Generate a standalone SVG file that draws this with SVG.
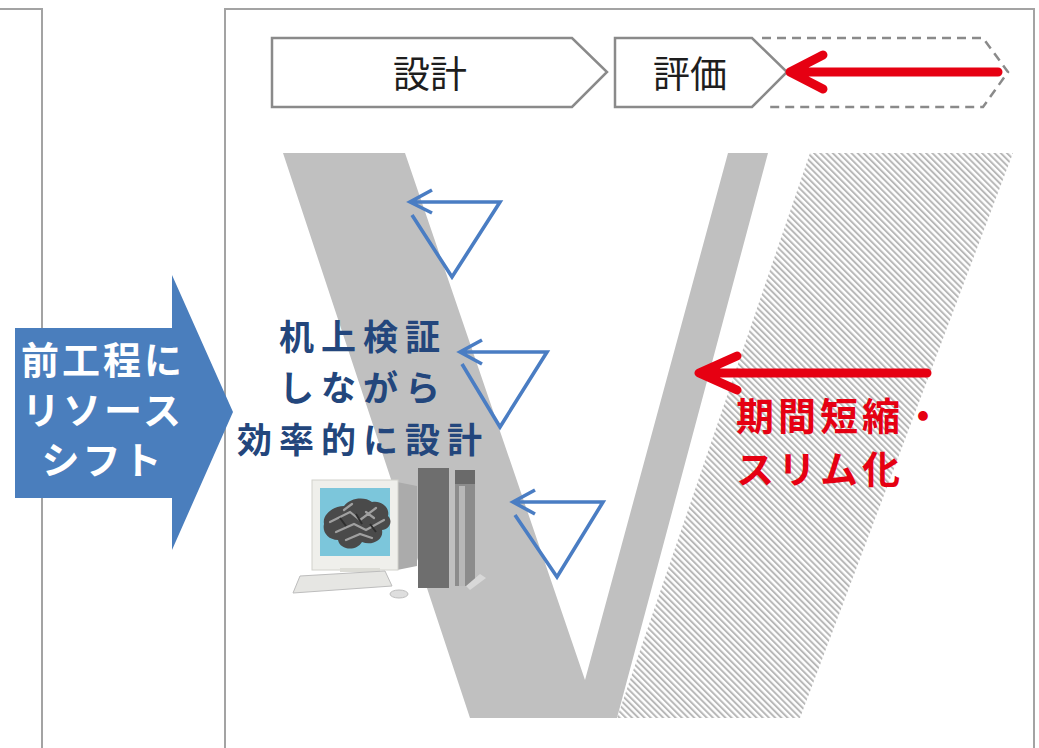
<svg xmlns="http://www.w3.org/2000/svg" width="1039" height="748" viewBox="0 0 1039 748">
  <defs>
    <pattern id="hatch" patternUnits="userSpaceOnUse" width="4.4" height="10" patternTransform="rotate(-45)">
      <rect x="0" y="0" width="2" height="10" fill="#b8b8b8"/>
    </pattern>
    <style>
      .panel { fill: none; stroke: #a3a3a3; stroke-width: 2; }
      .chev { fill: #ffffff; stroke: #8a8a8a; stroke-width: 2.5; }
      .chev-dash { fill: none; stroke: #8a8a8a; stroke-width: 2.5; stroke-dasharray: 9 6; }
      .chev-text { font-family: "Noto Sans CJK JP", "Noto Sans", sans-serif; font-size: 37px; fill: #1e1e1e; text-anchor: middle; dominant-baseline: central; }
      .cycle { fill: none; stroke: #4a7dc3; stroke-width: 3.6; stroke-linejoin: miter; }
      .red-arrow { fill: none; stroke: #e60012; stroke-width: 9; stroke-linecap: round; stroke-linejoin: round; }
      .navy { font-family: "Noto Sans CJK JP", "Noto Sans", sans-serif; font-size: 35px; font-weight: bold; fill: #23467c; text-anchor: middle; dominant-baseline: central; letter-spacing: 7px; }
      .white { font-family: "Noto Sans CJK JP", "Noto Sans", sans-serif; font-size: 38px; font-weight: bold; fill: #ffffff; text-anchor: middle; dominant-baseline: central; letter-spacing: 3px; }
      .red { font-family: "Noto Sans CJK JP", "Noto Sans", sans-serif; font-size: 38px; font-weight: bold; fill: #e60012; dominant-baseline: central; letter-spacing: 4px; }
    </style>
  </defs>

  <rect width="1039" height="748" fill="#ffffff"/>

  <!-- panel frames -->
  <g id="panels">
    <path class="panel" d="M0 9 H42 V748"/>
    <path class="panel" d="M225 748 V9 H1034 V748"/>
  </g>

  <!-- process chevrons -->
  <g id="chevron-design">
    <polygon class="chev" points="272,38 572,38 607,72 572,107 272,107"/>
    <text class="chev-text" x="430" y="72">設計</text>
  </g>
  <g id="chevron-eval">
    <polygon class="chev" points="615,38 752,38 787,72 752,107 615,107"/>
    <text class="chev-text" x="690" y="72">評価</text>
  </g>
  <g id="chevron-removed">
    <path class="chev-dash" d="M762 38 H983 L1008 72 L983 107 H770"/>
  </g>

  <!-- hatched band: trimmed evaluation period -->
  <g id="trimmed-band">
    <polygon points="810,153 1013,153 800,718 617,718" fill="url(#hatch)"/>
  </g>

  <!-- V model -->
  <g id="v-model">
    <polygon points="283,153 405,153 585,680 728,153 768,153 617,718 470,718" fill="#c0c0c0"/>
  </g>

  <!-- workstation -->
  <g id="workstation">
    <polygon points="397,482 417,486 417,566 397,570" fill="#ababab"/>
    <rect x="312" y="480" width="86" height="90" fill="#efefeb" stroke="#d2d2cc" stroke-width="1"/>
    <rect x="320" y="488" width="70" height="68" fill="#7cc6db"/>
    <path d="M324 524 C322 514 334 506 344 506 C350 498 364 496 372 502 C382 500 390 508 388 516 C394 522 388 530 382 530 C384 540 372 546 362 542 C356 552 340 550 338 540 C328 540 322 532 324 524 Z" fill="#4a4a4a"/>
    <path d="M330 522 L350 512 L360 520 L376 508 M336 532 L354 524 L366 530 L384 520 M346 540 L360 534 L372 538 M344 510 L352 504 M366 512 L374 518" stroke="#a0a0a0" stroke-width="2.2" fill="none" stroke-linecap="round"/>
    <path d="M340 518 L346 526 M356 514 L362 524 M370 524 L376 532" stroke="#2e2e2e" stroke-width="2" fill="none"/>
    <rect x="340" y="568" width="40" height="4" fill="#dcdcd6"/>
    <polygon points="300,576 385,571 392,586 293,593" fill="#e6e6e3" stroke="#bdbdbd" stroke-width="1"/>
    <ellipse cx="399" cy="594" rx="9" ry="4" fill="#dedede" stroke="#bdbdbd" stroke-width="1"/>
    <rect x="418" y="468" width="31" height="120" fill="#6e6e6e"/>
    <rect x="455" y="470" width="20" height="116" fill="#8c8c8c"/>
    <rect x="455" y="470" width="20" height="14" fill="#6a6a6a"/>
    <rect x="459" y="486" width="6" height="100" fill="#b8b8b8"/>
    <polygon points="466,586 480,574 486,578 470,590" fill="#d8d8d8"/>
  </g>

  <!-- design-verification cycles and shortening arrows -->
  <g id="connectors">
    <path class="cycle" d="M432 190 L410 202 L432 213 M410 202 H500 L452 277 L412 215"/>
    <path class="cycle" d="M482 340 L460 352 L482 364 M460 352 H547 L500 427 L462 364"/>
    <path class="cycle" d="M535 490 L513 502 L535 514 M513 502 H603 L557 577 L515 515"/>
    <path class="red-arrow" d="M823 55 L790 72 L823 89 M792 72 H998"/>
    <path class="red-arrow" d="M737 356 L699 373 L737 390 M702 373 H927"/>
  </g>

  <!-- resource shift arrow -->
  <g id="resource-shift">
    <polygon points="15,328 172,328 172,275 233,412 172,550 172,498 15,498" fill="#4a7ebd"/>
    <text class="white" x="103" y="357">前工程に</text>
    <text class="white" x="103" y="407">リソース</text>
    <text class="white" x="103" y="457">シフト</text>
  </g>

  <!-- design note -->
  <g id="design-note">
    <text class="navy" x="363" y="334">机上検証</text>
    <text class="navy" x="363" y="385">しながら</text>
    <text class="navy" x="363" y="437">効率的に設計</text>
  </g>

  <!-- shortening label -->
  <g id="shorten-label">
    <text class="red" x="736" y="413">期間短縮・</text>
    <text class="red" x="736" y="466">スリム化</text>
  </g>
</svg>
